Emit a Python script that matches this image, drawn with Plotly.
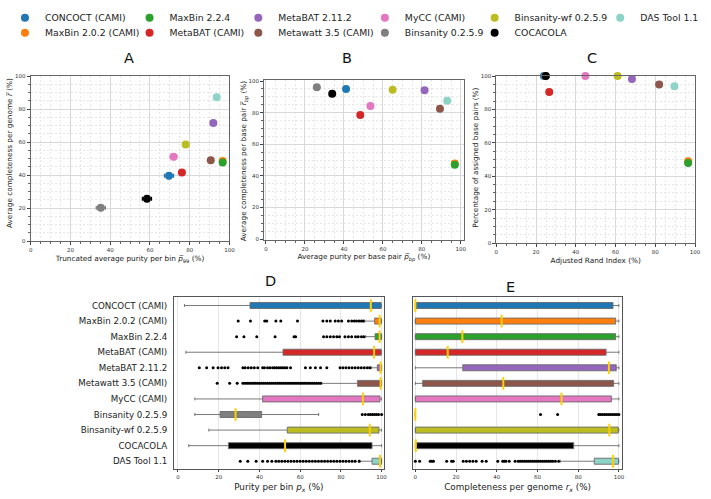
import plotly.graph_objects as go

W, H = 711, 499

methods = ["CONCOCT (CAMI)", "MaxBin 2.0.2 (CAMI)", "MaxBin 2.2.4", "MetaBAT (CAMI)",
           "MetaBAT 2.11.2", "Metawatt 3.5 (CAMI)", "MyCC (CAMI)", "Binsanity 0.2.5.9",
           "Binsanity-wf 0.2.5.9", "COCACOLA", "DAS Tool 1.1"]
colors = ["#1f77b4", "#ff7f0e", "#2ca02c", "#d62728", "#9467bd", "#8c564b",
          "#e377c2", "#7f7f7f", "#bcbd22", "#000000", "#8dd3c7"]

# Panel A: truncated avg purity vs avg completeness (with std errors)
A_x = [69.6, 96.6, 96.6, 76.1, 91.9, 90.6, 71.9, 35.3, 78.0, 58.5, 93.6]
A_y = [39.6, 48.6, 47.6, 41.6, 71.6, 49.0, 51.2, 20.2, 58.6, 25.6, 87.2]
A_x_err = [2.3, 0.4, 0.4, 1.3, 0.8, 0.8, 1.7, 2.3, 1.1, 2.3, 0.6]
A_y_err = [1.8, 1.3, 1.3, 1.5, 1.3, 1.0, 1.8, 1.3, 1.7, 1.3, 1.0]

# Panel B: avg purity per bp vs avg completeness per bp
B_x = [41.1, 96.9, 96.9, 48.4, 81.4, 89.3, 53.6, 26.1, 65.0, 34.0, 93.0]
B_y = [95.0, 47.9, 47.1, 78.5, 94.2, 82.5, 84.2, 96.0, 94.4, 91.9, 87.5]

# Panel C: ARI vs percentage of assigned bp
C_x = [23.9, 96.5, 96.5, 26.6, 68.2, 81.9, 44.8, 24.5, 61.0, 24.9, 89.6]
C_y = [100.0, 49.0, 48.0, 90.5, 98.2, 95.0, 100.0, 100.0, 100.0, 100.0, 93.9]

# Panel D: purity per bin box stats
D_lower = [3.2, 91.7, 92.2, 3.9, 95.0, 70.7, 8.3, 8.3, 15.2, 5.3, 89.0]
D_q1 = [35.4, 96.6, 96.8, 51.6, 97.9, 88.2, 41.6, 20.7, 53.7, 24.8, 95.3]
D_med = [94.7, 99.0, 99.0, 96.3, 99.5, 99.5, 90.8, 28.3, 94.2, 52.6, 99.2]
D_q3 = [99.8, 99.8, 100.0, 99.8, 100.0, 100.0, 99.2, 41.1, 98.7, 95.3, 100.0]
D_upper = [100.0, 100.0, 100.0, 100.0, 100.0, 100.0, 100.0, 69.1, 100.0, 100.0, 100.0]
D_outliers = [
    [],
    [29.6, 35.6, 42.6, 43.6, 48.1, 50.5, 58.7, 71.2, 73.1, 74.8, 77.2, 78.8, 80.4, 83.7,
     85.3, 86.6, 87.7, 89.0, 90.1, 91.0],
    [28.8, 32.4, 38.7, 47.7, 57.0, 57.8, 71.5, 73.1, 74.8, 76.4, 78.0, 79.3, 82.0, 83.7,
     85.3, 87.2, 88.5, 90.1, 91.3],
    [],
    [10.5, 14.1, 17.3, 19.7, 21.4, 23.0, 24.6, 31.9, 33.0, 34.5, 36.0, 37.5, 39.2, 41.6,
     42.5, 44.0, 45.2, 46.5, 47.5, 48.5, 49.5, 50.5, 51.5, 52.5, 53.5, 55.3, 62.6, 65.0,
     67.5, 70.0, 73.1, 79.6, 81.0, 82.5, 84.0, 85.5, 87.0, 88.5, 90.0, 91.5, 93.0, 94.2],
    [19.3, 25.4, 29.1, 31.9, 33.0, 34.0, 35.0, 36.0, 37.0, 38.0, 39.0, 40.0, 41.0, 42.0,
     43.0, 44.0, 45.0, 46.0, 47.0, 48.0, 49.0, 50.0, 51.0, 52.0, 53.0, 54.0, 55.0, 56.0,
     57.0, 58.0, 59.0, 60.0, 61.0, 62.0, 63.0, 64.0, 65.0, 66.0, 67.0, 68.0, 69.0, 70.0],
    [],
    [90.5, 92.0, 93.5, 94.5, 95.5, 96.5, 97.5, 98.5, 100.0],
    [],
    [],
    [30.6, 34.3, 38.4, 41.6, 44.0, 46.1, 48.1, 49.5, 51.0, 52.5, 54.0, 55.5, 57.0, 58.5,
     60.0, 61.5, 63.0, 64.5, 66.0, 67.5, 69.0, 70.5, 72.0, 73.5, 75.0, 76.5, 78.0, 79.5,
     81.0, 82.5, 84.0, 85.5, 87.0, 89.0],
]

# Panel E: completeness per genome box stats
E_lower = [0.0, 0.0, 0.0, 0.0, 0.0, 0.0, 0.0, 0.0, 0.0, 0.0, 71.2]
E_q1 = [0.0, 0.0, 0.0, 0.0, 23.3, 3.6, 0.0, 0.0, 0.0, 0.0, 87.9]
E_med = [0.0, 42.4, 23.1, 15.9, 95.1, 43.2, 71.8, 0.0, 95.3, 0.2, 97.1]
E_q3 = [97.1, 98.4, 98.4, 93.7, 98.7, 97.4, 96.3, 0.0, 99.7, 77.8, 99.8]
E_upper = [100.0, 100.0, 100.0, 100.0, 100.0, 100.0, 100.0, 0.0, 100.0, 100.0, 100.0]
E_outliers = [
    [], [], [], [], [], [], [],
    [61.5, 69.9, 90.1, 91.0, 92.0, 93.0, 94.0, 95.0, 96.0, 97.0, 98.0, 99.0, 100.0],
    [], [],
    [0.0, 2.1, 7.3, 8.1, 8.9, 15.4, 17.8, 18.6, 23.5, 25.1, 26.7, 28.3, 29.9, 32.8, 34.8,
     40.5, 42.9, 43.7, 44.5, 46.1, 49.0, 50.5, 51.5, 52.5, 53.5, 54.5, 55.5, 56.5, 57.5,
     58.5, 59.5, 60.5, 61.5, 62.5, 63.5, 64.5, 65.5, 66.5, 67.5, 68.8, 70.4],
]

# legend entry placement (pixels): marker centre
leg_x_px = [26, 26, 152, 152, 262, 262, 390, 390, 501, 501, 628]
leg_y_px = [16, 31, 16, 31, 16, 31, 16, 31, 16, 31, 16]

FONT = "DejaVu Sans"


def dx(a, b):
    return [a / W, b / W]


def dy(top, bottom):
    return [1 - bottom / H, 1 - top / H]


fig = go.Figure()

for i, m in enumerate(methods):
    c = colors[i]
    lg = "legend" if i == 0 else f"legend{i + 1}"
    fig.add_trace(go.Scatter(
        x=[A_x[i]], y=[A_y[i]], mode="markers", name=m, legend=lg,
        marker=dict(color=c, size=8),
        error_x=dict(type="data", array=[A_x_err[i]], color=c, thickness=1.2, width=2),
        error_y=dict(type="data", array=[A_y_err[i]], color=c, thickness=1.2, width=2),
        xaxis="x", yaxis="y", cliponaxis=False))
    fig.add_trace(go.Scatter(
        x=[B_x[i]], y=[B_y[i]], mode="markers", name=m, showlegend=False,
        marker=dict(color=c, size=8), xaxis="x2", yaxis="y2", cliponaxis=False))
    fig.add_trace(go.Scatter(
        x=[C_x[i]], y=[C_y[i]], mode="markers", name=m, showlegend=False,
        marker=dict(color=c, size=8), xaxis="x3", yaxis="y3", cliponaxis=False))

for panel, (lo, q1, md, q3, up, outs, xa, ya) in enumerate([
        (D_lower, D_q1, D_med, D_q3, D_upper, D_outliers, "x4", "y4"),
        (E_lower, E_q1, E_med, E_q3, E_upper, E_outliers, "x5", "y5")]):
    for i, m in enumerate(methods):
        fig.add_trace(go.Box(
            y=[m], q1=[q1[i]], median=[md[i]], q3=[q3[i]],
            lowerfence=[lo[i]], upperfence=[up[i]], orientation="h",
            fillcolor=colors[i], line=dict(color="#6a6a6a", width=0.9),
            whiskerwidth=0.5, boxpoints=False, showlegend=False, name=m,
            xaxis=xa, yaxis=ya))
        if outs[i]:
            fig.add_trace(go.Scatter(
                x=outs[i], y=[m] * len(outs[i]), mode="markers", showlegend=False,
                marker=dict(color="black", size=3), xaxis=xa, yaxis=ya, cliponaxis=False))
    fig.add_trace(go.Scatter(
        x=md, y=methods, mode="markers", showlegend=False,
        marker=dict(symbol="line-ns", size=9, line=dict(width=2, color="#FFD000")),
        xaxis=xa, yaxis=ya, cliponaxis=False))

tick_font = dict(family=FONT, size=5.5, color="#333")
title_font = dict(family=FONT, size=7.3, color="#222")


def sc_axis(domain, rng, title, standoff, anchor):
    d = dict(domain=domain, range=rng, anchor=anchor, dtick=20, tick0=0,
             showgrid=True, gridcolor="#d9d9d9", gridwidth=0.8,
             minor=dict(dtick=5, showgrid=True, gridcolor="#e6e6e6", griddash="2px,2px",
                        gridwidth=0.6, ticks="outside", ticklen=2, tickcolor="#666"),
             ticks="outside", ticklen=3, tickcolor="#444", tickfont=tick_font,
             showline=True, linecolor="#666", linewidth=1, mirror=True, zeroline=False)
    if title:
        d["title"] = dict(text=title, font=title_font, standoff=standoff)
    return d


layout = dict(
    width=W, height=H, margin=dict(l=0, r=0, t=0, b=0),
    paper_bgcolor="white", plot_bgcolor="white",
    font=dict(family=FONT, color="#222"),
    boxmode="overlay", boxgap=0.45,
    xaxis=sc_axis(dx(29, 230), [0, 100],
                  "Truncated average purity per bin <i>p\u0305</i><sub>99</sub> (%)", 4, "y"),
    yaxis=sc_axis(dy(74, 241), [0, 100], None, 0, "x"),
    xaxis2=sc_axis(dx(265, 467), [-1.0, 101.5],
                   "Average purity per base pair <i>p\u0305<sub>bp</sub></i> (%)", 3, "y2"),
    yaxis2=sc_axis(dy(78, 240), [-0.6, 100.6], None, 0, "x2"),
    xaxis3=sc_axis(dx(500, 701), [0, 100], "Adjusted Rand Index (%)", 4, "y3"),
    yaxis3=sc_axis(dy(74, 243), [0, 100], None, 0, "x3"),
)

for k, (xd, rng, ttl) in zip([4, 5], [(dx(174, 386), [-1.9, 101.0],
                                        "Purity per bin <i>p<sub>x</sub></i> (%)"),
                                       (dx(416, 627), [-1.0, 101.5],
                                        "Completeness per genome <i>r<sub>x</sub></i> (%)")]):
    layout[f"xaxis{k}"] = dict(
        domain=xd, range=rng, anchor=f"y{k}", dtick=20, tick0=0,
        showgrid=True, gridcolor="#e6e6e6", gridwidth=0.8,
        ticks="outside", ticklen=2, tickcolor="#444", tickfont=tick_font,
        showline=True, linecolor="#555", linewidth=1.2, mirror=True, zeroline=False,
        title=dict(text=ttl, font=dict(family=FONT, size=8.8, color="#222"), standoff=4))
    layout[f"yaxis{k}"] = dict(
        domain=dy(298, 472), anchor=f"x{k}", type="category",
        categoryorder="array", categoryarray=methods, range=[10.52, -0.52],
        showgrid=False, ticks="", showticklabels=(k == 4), ticklabelstandoff=4,
        tickfont=dict(family=FONT, size=8.7, color="#222"),
        showline=True, linecolor="#555", linewidth=1.2, mirror=True, zeroline=False)

for i in range(len(methods)):
    key = "legend" if i == 0 else f"legend{i + 1}"
    layout[key] = dict(x=(leg_x_px[i] - 23) / W, xanchor="left",
                       y=1 - (leg_y_px[i] - 1) / H, yanchor="middle",
                       orientation="v", bgcolor="rgba(0,0,0,0)", borderwidth=0,
                       itemwidth=30, font=dict(family=FONT, size=9.3, color="#222"))

fig.update_layout(**layout)

for txt, xp, yp in [("A", 128, 56), ("B", 349, 56), ("C", 597, 56),
                    ("D", 272, 281), ("E", 514, 287)]:
    fig.add_annotation(text=txt, x=xp / W, y=1 - yp / H, xref="paper", yref="paper",
                       showarrow=False, xanchor="center", yanchor="middle",
                       font=dict(family=FONT, size=14.5, color="#111"))

# y-axis titles of the scatter panels, placed as rotated annotations
for txt, xp, yp in [("Average completeness per genome <i>r\u0305</i> (%)", 7, 152),
                    ("Average completeness per base pair <i>r\u0305<sub>bp</sub></i> (%)", 245, 160),
                    ("Percentage of assigned base pairs (%)", 478, 157)]:
    fig.add_annotation(text=txt, x=xp / W, y=1 - yp / H, xref="paper", yref="paper",
                       showarrow=False, textangle=-90, xanchor="center", yanchor="middle",
                       font=title_font)

fig.write_html("out.html", config={"displayModeBar": False},
               post_script="document.body.style.margin='0';"
                           "document.body.style.overflow='hidden';")
